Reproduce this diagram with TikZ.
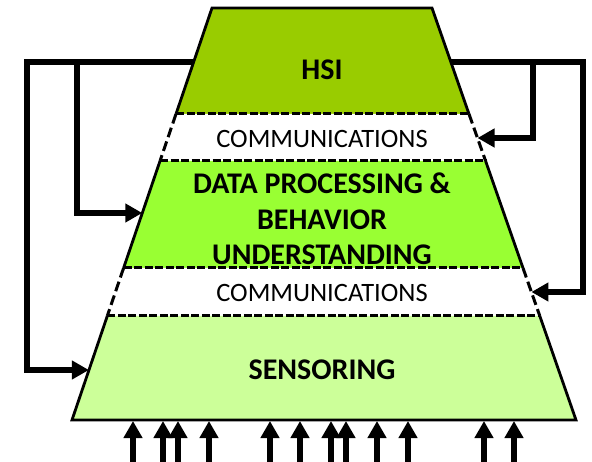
\documentclass[tikz,border=0pt]{standalone}
\usepackage{fontspec}
\setmainfont{Carlito}
\usetikzlibrary{arrows.meta}
\definecolor{hsigreen}{HTML}{99CC00}
\definecolor{dpgreen}{HTML}{99FF33}
\definecolor{sensgreen}{HTML}{CCFF99}
\begin{document}
\begin{tikzpicture}[x=1pt,y=-1pt,
  solidedge/.style={draw=black,line width=2.8pt,line join=miter},
  dashedge/.style={draw=black,line width=3pt,dash pattern=on 8pt off 2.5pt},
  boldlabel/.style={font=\fontsize{30}{35.5}\selectfont\bfseries,align=center,inner sep=0pt},
  commlabel/.style={font=\fontsize{26.5}{30}\selectfont,inner sep=0pt},
  feedback/.style={line width=6pt,line join=miter,-{Triangle[length=17pt,width=18pt]}},
  inputarrow/.style={line width=5.5pt,-{Triangle[length=17pt,width=18pt]}}]
\useasboundingbox (0,0) rectangle (592,462);
% layer outlines
\coordinate (hTL) at (212,8);   \coordinate (hTR) at (432,8);
\coordinate (hBL) at (176,114); \coordinate (hBR) at (469,114);
\coordinate (dTL) at (160,161); \coordinate (dTR) at (485.6,161);
\coordinate (dBL) at (123.6,268); \coordinate (dBR) at (523,268);
\coordinate (sTL) at (107.3,316); \coordinate (sTR) at (539.8,316);
\coordinate (sBL) at (72,420);  \coordinate (sBR) at (576,420);
% fills
\fill[hsigreen] (hTL) -- (hTR) -- (hBR) -- (hBL) -- cycle;
\fill[white] (hBL) -- (hBR) -- (dTR) -- (dTL) -- cycle;
\fill[dpgreen] (dTL) -- (dTR) -- (dBR) -- (dBL) -- cycle;
\fill[white] (dBL) -- (dBR) -- (sTR) -- (sTL) -- cycle;
\fill[sensgreen] (sTL) -- (sTR) -- (sBR) -- (sBL) -- cycle;
% solid edges
\draw[solidedge] (hBL) -- (hTL) -- (hTR) -- (hBR);
\draw[solidedge] (dTL) -- (dBL);
\draw[solidedge] (dTR) -- (dBR);
\draw[solidedge] (sTL) -- (sBL) -- (sBR) -- (sTR);
% dashed edges
\draw[dashedge] (hBL) -- (hBR);
\draw[dashedge] (dTL) -- (dTR);
\draw[dashedge] (dBL) -- (dBR);
\draw[dashedge] (sTL) -- (sTR);
\draw[dashedge,dash pattern=on 10pt off 4.5pt] (hBL) -- (dTL);
\draw[dashedge,dash pattern=on 10pt off 4.5pt] (hBR) -- (dTR);
\draw[dashedge,dash pattern=on 10pt off 4.5pt] (dBL) -- (sTL);
\draw[dashedge,dash pattern=on 10pt off 4.5pt] (dBR) -- (sTR);
% labels
\node[boldlabel] (hsi) at (322,70) {HSI};
\node[commlabel] (comm1) at (322,139) {COMMUNICATIONS};
\node[boldlabel] (dp) at (322,219) {DATA PROCESSING \&\\BEHAVIOR\\UNDERSTANDING};
\node[commlabel] (comm2) at (322,293) {COMMUNICATIONS};
\node[boldlabel] (sens) at (322,370) {SENSORING};
% feedback connectors
\coordinate (hsiL) at (193.6,62);
\coordinate (hsiR) at (450.9,62);
\coordinate (dpL) at (142.3,213);
\coordinate (sensL) at (88.9,370);
\coordinate (c1R) at (477.5,138);
\coordinate (c2R) at (531.4,292);
\coordinate (lOut) at (27,62);
\coordinate (lBr) at (77,62);
\coordinate (rOut) at (583,62);
\coordinate (rBr) at (533,62);
\draw[feedback] (hsiL) -- (lOut) |- (sensL);
\draw[feedback] (lBr) |- (dpL);
\draw[feedback] (hsiR) -- (rOut) |- (c2R);
\draw[feedback] (rBr) |- (c1R);
% input arrows
\foreach \i/\x in {1/133,2/163,3/178,4/209,5/270,6/300,7/331,8/346,9/377,10/408,11/484,12/514}{
  \coordinate (in\i) at (\x,462);
  \coordinate (tip\i) at (\x,421);
  \draw[inputarrow] (in\i) -- (tip\i);
}
\end{tikzpicture}
\end{document}
